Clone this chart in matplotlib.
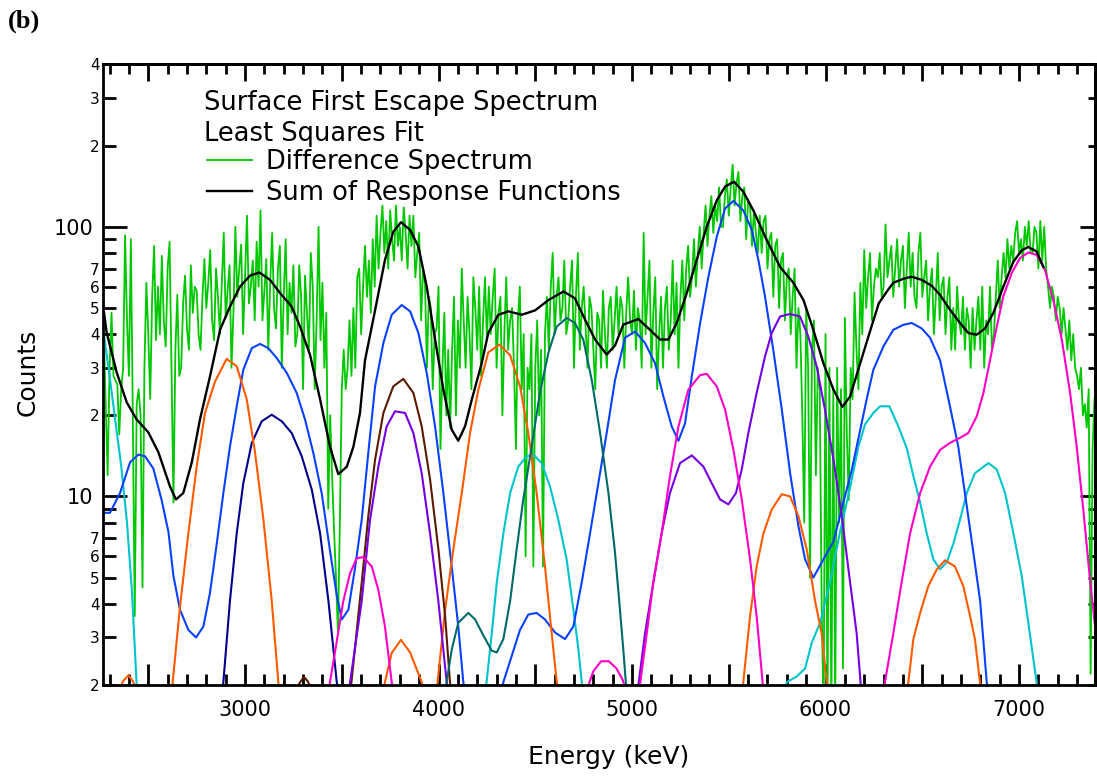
import matplotlib

matplotlib.use("Agg")
import matplotlib.pyplot as plt  # noqa: E402
import numpy as np  # noqa: E402
from matplotlib.ticker import (  # noqa: E402
    FuncFormatter,
    LogLocator,
    MultipleLocator,
    NullFormatter,
)

# ---------------------------------------------------------------------------
# Difference spectrum: 10 keV channels starting at 2270 keV (one row = 200 keV)
# ---------------------------------------------------------------------------
DIFF_E0 = 2270
DIFF_DE = 10
diff_counts = [
    40, 22, 12, 30, 48, 28, 27, 26, 17, 25, 30, 93, 45, 28, 90, 20, 3.6, 22, 25, 20,
    4.6, 30, 62, 40, 23, 55, 85, 38, 60, 40, 78, 45, 36, 70, 88, 30, 9.5, 35, 56, 28,
    30, 52, 66, 42, 35, 72, 48, 60, 58, 40, 35, 55, 76, 50, 62, 82, 45, 38, 70, 55,
    40, 62, 95, 46, 58, 72, 30, 48, 100, 55, 70, 86, 40, 65, 110, 52, 60, 75, 45, 88,
    60, 115, 45, 58, 76, 35, 62, 95, 50, 42, 70, 85, 30, 55, 90, 40, 62, 48, 72, 36,
    40, 72, 55, 25, 66, 48, 35, 80, 60, 25, 45, 100, 38, 62, 30, 48, 9, 20, 12, 7.5,
    5, 3.1, 8, 25, 35, 25, 30, 45, 28, 50, 30, 65, 70, 40, 60, 85, 55, 75, 48, 90,
    60, 110, 70, 95, 120, 80, 105, 70, 115, 90, 75, 120, 85, 100, 75, 118, 95, 70, 110, 85,
    110, 65, 80, 95, 45, 70, 62, 30, 55, 50, 25, 40, 42, 60, 15, 30, 48, 20, 35, 18,
    35, 55, 20, 45, 30, 70, 45, 30, 55, 40, 25, 65, 50, 35, 60, 28, 45, 65, 38, 60,
    40, 55, 70, 30, 48, 55, 20, 40, 65, 35, 45, 50, 30, 15, 45, 60, 25, 40, 6, 30,
    25, 40, 5.5, 30, 45, 20, 35, 5.5, 40, 55, 35, 60, 80, 40, 55, 65, 45, 50, 75, 40,
    45, 60, 75, 30, 55, 80, 35, 50, 60, 42, 30, 55, 50, 35, 25, 48, 45, 30, 58, 40,
    30, 50, 55, 35, 45, 60, 40, 55, 50, 30, 48, 65, 45, 40, 58, 35, 50, 45, 30, 95,
    40, 55, 75, 30, 48, 65, 25, 40, 55, 30, 50, 60, 35, 45, 75, 40, 62, 30, 55, 75,
    45, 70, 85, 55, 65, 90, 60, 80, 100, 70, 95, 120, 85, 110, 130, 95, 120, 105, 140, 100,
    100, 130, 150, 110, 140, 170, 120, 145, 160, 105, 130, 140, 90, 125, 120, 85, 115, 95, 80, 110,
    80, 105, 110, 70, 90, 95, 55, 85, 90, 50, 75, 80, 45, 65, 70, 40, 55, 70, 30, 50,
    40, 20, 8, 50, 30, 5, 35, 45, 12, 30, 25, 4, 1.5, 40, 1.5, 30, 1.5, 25, 1.5, 30,
    8, 25, 2.3, 46, 17, 9.7, 30, 23, 57, 35, 25, 62, 40, 82, 50, 65, 80, 45, 60, 70,
    65, 80, 55, 60, 102, 65, 75, 85, 55, 70, 90, 60, 75, 85, 50, 70, 95, 60, 80, 55,
    50, 80, 95, 55, 65, 75, 45, 60, 70, 40, 55, 80, 45, 60, 65, 40, 55, 65, 35, 50,
    35, 60, 45, 40, 55, 35, 50, 45, 30, 50, 35, 45, 55, 35, 60, 30, 45, 40, 60, 35,
    40, 55, 75, 50, 65, 80, 65, 90, 70, 85, 75, 95, 105, 80, 90, 75, 100, 85, 105, 80,
    80, 100, 95, 70, 105, 75, 100, 70, 60, 50, 60, 55, 45, 55, 50, 40, 50, 42, 35, 45,
    32, 40, 30, 28, 25, 30, 20, 22, 18, 25, 2.2, 15, 23,
]

# ---------------------------------------------------------------------------
# Sum of response functions
# ---------------------------------------------------------------------------
sum_e = [2266, 2285, 2337, 2389, 2440, 2500, 2552, 2612, 2643, 2681,
         2725, 2767, 2819, 2871, 2922, 2974, 3026, 3074, 3129, 3181,
         3241, 3284, 3336, 3388, 3439, 3482, 3526, 3560, 3594, 3620,
         3672, 3723, 3766, 3806, 3853, 3896, 3939, 3982, 4025, 4068,
         4102, 4137, 4172, 4223, 4257, 4309, 4361, 4430, 4499, 4568,
         4646, 4705, 4757, 4809, 4869, 4912, 4955, 5032, 5093, 5145,
         5188, 5231, 5283, 5334, 5386, 5438, 5481, 5527, 5575, 5627,
         5696, 5765, 5834, 5886, 5937, 5989, 6041, 6087, 6127, 6178,
         6230, 6275, 6320, 6350, 6402, 6445, 6497, 6549, 6592, 6643,
         6695, 6738, 6781, 6824, 6867, 6919, 6971, 7014, 7048, 7091,
         7126]
sum_n = [51.4, 40.5, 28.8, 22.3, 19.3, 17.3, 14.6, 10.9, 9.75, 10.3,
         13.4, 19.3, 27.9, 41.5, 50.6, 60, 66, 67.7, 63.6, 56.8,
         50.6, 42.7, 33.5, 22.9, 15.3, 12.1, 12.9, 15.3, 20.4, 32,
         49, 75.3, 95.8, 104, 97.4, 84.5, 60, 38.3, 24.9, 17.7,
         16.1, 18.2, 22.9, 31.2, 40.4, 47.2, 48.6, 47.2, 49, 53.5,
         57.6, 54.3, 45.3, 38.2, 33.6, 36.3, 43.4, 45.5, 41.5, 38.2,
         38.2, 44, 56.8, 75.3, 100, 125.4, 141, 147, 135, 115,
         89.4, 71, 62, 53.5, 41.5, 31.2, 24.9, 21.5, 23.5, 31,
         41, 52, 58, 62, 64.2, 65.3, 63.6, 60.4, 55.9, 49.3,
         44, 40.4, 39.8, 42, 47.9, 60, 74.3, 81.8, 84.2, 81,
         71]

# ---------------------------------------------------------------------------
# Individual response functions (energy in keV, counts)
# ---------------------------------------------------------------------------
cyan_1_e = [2266, 2300, 2330, 2360, 2390, 2415, 2440, 2455]
cyan_1_n = [42, 28, 19, 13, 8, 4.5, 2.0, 1.6]
cyan_2_e = [4240, 4275, 4301, 4335, 4370, 4412, 4455, 4490, 4533, 4576,
            4619, 4662, 4697, 4723, 4740, 4750]
cyan_2_n = [1.8, 3.1, 4.8, 7.3, 10.3, 12.9, 14.1, 14.3, 13.3, 10.9,
            8.2, 5.85, 3.8, 2.7, 2.05, 1.8]
cyan_3_e = [5790, 5800, 5851, 5894, 5929, 5972, 6023, 6075, 6127, 6170,
            6204, 6247, 6282, 6330, 6376, 6420, 6454, 6489, 6523, 6557,
            6592, 6626, 6661, 6695, 6730, 6772, 6842, 6885, 6928, 6971,
            7014, 7048, 7074, 7091, 7100]
cyan_3_n = [1.9, 2.05, 2.15, 2.3, 2.87, 3.4, 4.8, 7.4, 10.8, 15.3,
            18.5, 20.4, 21.6, 21.6, 18.2, 15.1, 11.9, 9.5, 7.3, 5.85,
            5.37, 5.7, 6.7, 8.2, 10.3, 12.2, 13.3, 12.6, 10.3, 7.3,
            5.07, 3.4, 2.5, 2.05, 1.8]

blue_1_e = [2266, 2302, 2354, 2406, 2449, 2483, 2526, 2569, 2604, 2630,
            2664, 2707, 2747, 2785, 2819, 2854, 2888, 2922, 2957, 2991,
            3035, 3078, 3120, 3164, 3216, 3267, 3310, 3353, 3396, 3439,
            3474, 3500, 3534, 3568, 3603, 3637, 3672, 3715, 3758, 3810,
            3853, 3896, 3939, 3982, 4025, 4068, 4102, 4128, 4140]
blue_1_n = [8.7, 8.7, 10.3, 13.4, 14.3, 14.1, 12.7, 9.7, 7.4, 5.07,
            3.8, 3.2, 3.0, 3.3, 4.4, 6.7, 10.3, 15.3, 21.6, 29.5,
            35.5, 36.8, 35.5, 32.6, 28.7, 24.2, 19.3, 14.5, 10.3, 6.3,
            4.3, 3.5, 3.8, 5.4, 8.2, 14.5, 25.6, 37.1, 47.2, 51.3,
            48.6, 40.4, 28.7, 18.2, 10.3, 5.5, 3.3, 2.05, 1.8]
blue_2_e = [4325, 4335, 4378, 4421, 4464, 4507, 4550, 4602, 4654, 4697,
            4740, 4783, 4826, 4869, 4912, 4964, 5016, 5067, 5119, 5162,
            5205, 5240, 5274, 5309, 5352, 5395, 5438, 5481, 5524, 5575,
            5619, 5653, 5687, 5730, 5774, 5817, 5860, 5894, 5937, 5989,
            6041, 6092, 6135, 6178, 6213, 6247, 6299, 6350, 6402, 6445,
            6497, 6540, 6592, 6643, 6686, 6730, 6764, 6799, 6833, 6845]
blue_2_n = [1.85, 2.05, 2.56, 3.2, 3.65, 3.7, 3.5, 3.13, 2.96, 3.3,
            4.8, 7.3, 11.2, 17.2, 27, 38.8, 40.9, 37.1, 31.2, 23.5,
            18.2, 16.1, 18.7, 27.9, 44, 65.5, 92, 117, 124.8, 115,
            97.5, 75.3, 55.3, 34.9, 21, 12.2, 7.76, 5.86, 5.0, 5.85,
            6.8, 9.5, 12.5, 17.5, 23, 29.5, 36, 41.5, 43.3, 44,
            42, 38.8, 32, 21.6, 15.3, 9.2, 6.2, 4.1, 2.05, 1.8]

navy_e = [2880, 2888, 2922, 2957, 2991, 3035, 3086, 3138, 3190, 3241,
          3293, 3345, 3388, 3431, 3474, 3482]
navy_n = [1.85, 2.05, 4.1, 7.3, 11.2, 15.8, 19, 20.1, 19, 17.2,
          14.1, 10.6, 7.3, 4.1, 2.05, 1.85]

orange_1_e = [2350, 2370, 2397, 2420, 2440]
orange_1_n = [1.9, 2.07, 2.17, 2.07, 1.9]
orange_2_e = [2620, 2626, 2664, 2707, 2750, 2793, 2845, 2905, 2957, 3009,
              3052, 3095, 3138, 3172, 3180]
orange_2_n = [1.85, 2.05, 3.9, 7.3, 12.9, 20.4, 26.7, 32.4, 30.4, 22.9,
              14.5, 8.2, 4.1, 2.05, 1.85]
orange_3_e = [3715, 3723, 3758, 3806, 3853, 3913, 3920]
orange_3_n = [1.9, 2.05, 2.63, 2.94, 2.64, 2.05, 1.9]
orange_4_e = [3988, 3995, 4034, 4077, 4120, 4163, 4206, 4257, 4314, 4370,
              4421, 4464, 4507, 4550, 4585, 4611, 4618]
orange_4_n = [1.85, 2.05, 3.8, 6.4, 10.3, 17.2, 24.9, 34.2, 36.6, 33.4,
              25.6, 17.2, 10.3, 5.5, 3.1, 2.05, 1.85]
orange_5_e = [5568, 5575, 5610, 5644, 5679, 5722, 5774, 5817, 5860, 5903,
              5946, 5980, 6006, 6012]
orange_5_n = [1.85, 2.05, 3.6, 5.5, 7.3, 8.95, 10.2, 10.0, 8.45, 6.36,
              4.1, 3.1, 2.05, 1.85]
orange_6_e = [6420, 6428, 6454, 6489, 6531, 6575, 6618, 6669, 6712, 6747,
              6772, 6798, 6805]
orange_6_n = [1.85, 2.05, 2.96, 3.7, 4.65, 5.37, 5.8, 5.5, 4.65, 3.6,
              2.96, 2.05, 1.85]

brown_1_e = [3260, 3285, 3305, 3325, 3345]
brown_1_n = [1.9, 2.05, 2.14, 2.06, 1.9]
brown_2_e = [3540, 3550, 3603, 3637, 3672, 3715, 3766, 3818, 3870, 3913,
             3956, 3999, 4034, 4059, 4066]
brown_2_n = [1.85, 2.05, 4.8, 8.45, 13.7, 20.4, 25.6, 27.3, 24.2, 18.2,
             11.6, 6.4, 3.6, 2.05, 1.85]

purple_1_e = [3535, 3543, 3603, 3646, 3689, 3732, 3775, 3827, 3870, 3913,
              3956, 3999, 4042, 4050]
purple_1_n = [1.85, 2.05, 4.1, 8.2, 12.9, 18.2, 20.7, 20.4, 17.2, 12.2,
              7.3, 4.1, 2.05, 1.85]
purple_2_e = [5025, 5033, 5067, 5110, 5153, 5196, 5248, 5309, 5369, 5412,
              5455, 5498, 5537, 5567, 5601, 5644, 5687, 5722, 5765, 5817,
              5868, 5911, 5954, 5997, 6041, 6084, 6127, 6161, 6182, 6190]
purple_2_n = [1.85, 2.0, 3.1, 4.8, 7.3, 10.3, 13.3, 14.2, 12.9, 11.2,
              9.75, 9.35, 10.3, 12.6, 17.2, 24.2, 33, 40.4, 46.5, 47.5,
              46.5, 39.2, 30.4, 21, 13.7, 8.45, 4.8, 3.1, 2.0, 1.85]

magenta_1_e = [3430, 3439, 3474, 3508, 3543, 3577, 3611, 3655, 3689, 3723,
               3758, 3766]
magenta_1_n = [1.85, 2.05, 2.9, 4.1, 5.2, 5.9, 5.96, 5.5, 4.5, 3.3,
               2.05, 1.85]
magenta_2_e = [4770, 4800, 4840, 4880, 4920, 4950, 4970]
magenta_2_n = [1.95, 2.25, 2.45, 2.45, 2.3, 2.1, 1.9]
magenta_3_e = [5035, 5041, 5076, 5110, 5153, 5196, 5240, 5291, 5352, 5386,
               5438, 5481, 5524, 5567, 5610, 5644, 5676, 5684]
magenta_3_n = [1.85, 2.0, 3.1, 4.8, 7.3, 11.9, 18.2, 24.9, 28.2, 28.5,
               25.6, 21, 14.9, 9.75, 5.85, 3.6, 2.0, 1.85]
magenta_4_e = [6300, 6307, 6350, 6393, 6437, 6489, 6540, 6592, 6643, 6695,
               6738, 6781, 6816, 6850, 6885, 6919, 6962, 7005, 7048, 7091,
               7134, 7177, 7221, 7264, 7298, 7332, 7367, 7401]
magenta_4_n = [1.85, 2.05, 3.1, 4.8, 7.3, 10.3, 12.9, 14.9, 15.8, 16.5,
               17.2, 19.8, 24.2, 32, 42.7, 55.3, 67.3, 76.6, 80.3, 78.7,
               69.2, 53.5, 38.2, 24.2, 15.3, 8.95, 4.9, 2.9]

teal_e = [4035, 4042, 4068, 4102, 4154, 4189, 4232, 4275, 4301, 4335,
          4370, 4404, 4438, 4481, 4524, 4568, 4611, 4662, 4705, 4748,
          4792, 4835, 4878, 4912, 4935, 4955, 4969, 4975]
teal_n = [1.85, 2.05, 2.7, 3.4, 3.7, 3.5, 3.05, 2.68, 2.64, 2.96,
          4.1, 6.4, 9.75, 15.3, 24.2, 34.2, 42.7, 45.9, 44, 38.2,
          27, 17.2, 10.3, 6.2, 4.0, 2.7, 2.0, 1.85]

# ---------------------------------------------------------------------------
# Style
# ---------------------------------------------------------------------------
GREEN = "#00c800"
CYAN = "#00c4cc"
BLUE = "#0a40ff"
NAVY = "#00008c"
ORANGE = "#ff5a00"
BROWN = "#5a1a00"
PURPLE = "#7600e4"
MAGENTA = "#ff00c8"
TEAL = "#006a6a"

components = [
    (cyan_1_e, cyan_1_n, CYAN), (cyan_2_e, cyan_2_n, CYAN),
    (cyan_3_e, cyan_3_n, CYAN),
    (blue_1_e, blue_1_n, BLUE), (blue_2_e, blue_2_n, BLUE),
    (navy_e, navy_n, NAVY),
    (orange_1_e, orange_1_n, ORANGE), (orange_2_e, orange_2_n, ORANGE),
    (orange_3_e, orange_3_n, ORANGE), (orange_4_e, orange_4_n, ORANGE),
    (orange_5_e, orange_5_n, ORANGE), (orange_6_e, orange_6_n, ORANGE),
    (brown_1_e, brown_1_n, BROWN), (brown_2_e, brown_2_n, BROWN),
    (purple_1_e, purple_1_n, PURPLE), (purple_2_e, purple_2_n, PURPLE),
    (magenta_1_e, magenta_1_n, MAGENTA), (magenta_2_e, magenta_2_n, MAGENTA),
    (magenta_3_e, magenta_3_n, MAGENTA), (magenta_4_e, magenta_4_n, MAGENTA),
    (teal_e, teal_n, TEAL),
]

fig = plt.figure(figsize=(10.97, 7.76), dpi=100)
ax = fig.add_axes([0.0939, 0.1173, 0.9047, 0.7996])

diff_e = DIFF_E0 + DIFF_DE * np.arange(len(diff_counts))
(diff_line,) = ax.plot(diff_e, diff_counts, color=GREEN, lw=1.3,
                       label="Difference Spectrum")
for e, n, c in components:
    ax.plot(e, n, color=c, lw=1.5)
(sum_line,) = ax.plot(sum_e, sum_n, color="black", lw=1.7,
                      label="Sum of Response Functions")

ax.set_yscale("log")
ax.set_xlim(2266, 7395)
ax.set_ylim(2, 400)

# x ticks: labels every 1000 keV, longer marks every 500, minor every 100
ax.xaxis.set_major_locator(MultipleLocator(500))
ax.xaxis.set_minor_locator(MultipleLocator(100))
ax.xaxis.set_major_formatter(
    FuncFormatter(lambda v, _: f"{v:.0f}" if v % 1000 == 0 else ""))

# y ticks: decades labelled large, 2..7 of each decade labelled small
ax.yaxis.set_major_locator(LogLocator(base=10, numticks=10))
ax.yaxis.set_minor_locator(LogLocator(base=10, subs=np.arange(2, 10),
                                      numticks=20))


def minor_label(v, _):
    lead = int(round(v / 10 ** np.floor(np.log10(v))))
    return str(lead) if 2 <= lead <= 7 else ""


ax.yaxis.set_major_formatter(FuncFormatter(lambda v, _: f"{v:.0f}"))
ax.yaxis.set_minor_formatter(FuncFormatter(minor_label))

ax.tick_params(axis="both", which="both", direction="in", width=2,
               top=False, right=False, colors="black")
ax.tick_params(axis="x", which="major", length=15, labelsize=15, pad=10.5)
ax.tick_params(axis="x", which="minor", length=8)
ax.tick_params(axis="y", which="major", length=17, labelsize=15, pad=7)
ax.tick_params(axis="y", which="minor", length=9, labelsize=11, pad=2.5)
for sp in ax.spines.values():
    sp.set_linewidth(2)

# shorter mirrored ticks on the top and right frame
secx = ax.secondary_xaxis("top")
secx.xaxis.set_major_locator(MultipleLocator(500))
secx.xaxis.set_minor_locator(MultipleLocator(100))
secx.xaxis.set_major_formatter(NullFormatter())
secx.tick_params(which="both", direction="in", width=2)
secx.tick_params(which="major", length=12)
secx.tick_params(which="minor", length=7)
secx.spines["top"].set_linewidth(2)

secy = ax.secondary_yaxis("right")
secy.yaxis.set_major_locator(LogLocator(base=10, numticks=10))
secy.yaxis.set_minor_locator(LogLocator(base=10, subs=np.arange(2, 10),
                                        numticks=20))
secy.yaxis.set_major_formatter(NullFormatter())
secy.yaxis.set_minor_formatter(NullFormatter())
secy.tick_params(which="both", direction="in", width=2)
secy.tick_params(which="major", length=11)
secy.tick_params(which="minor", length=5)
secy.spines["right"].set_linewidth(2)

ax.set_xlabel("Energy (keV)", fontsize=18)
ax.xaxis.set_label_coords(0.509, -0.097)
ax.set_ylabel("Counts", fontsize=18)
ax.yaxis.set_label_coords(-0.0635, 0.503)

ax.text(0.1018, 0.9274, "Surface First Escape Spectrum",
        transform=ax.transAxes, fontsize=18.5, va="baseline")
ax.text(0.1018, 0.8764, "Least Squares Fit", transform=ax.transAxes,
        fontsize=18.5, va="baseline")
ax.legend(handles=[diff_line, sum_line], loc="upper left",
          bbox_to_anchor=(0.1045, 0.8639), frameon=False, fontsize=18.5,
          borderpad=0, borderaxespad=0, handlelength=1.75,
          handletextpad=0.55, labelspacing=0.2)

fig.text(0.007, 0.988, "(b)", fontsize=19, fontweight="bold",
         family="Liberation Serif", va="top")

fig.savefig("out.png", dpi=100)
